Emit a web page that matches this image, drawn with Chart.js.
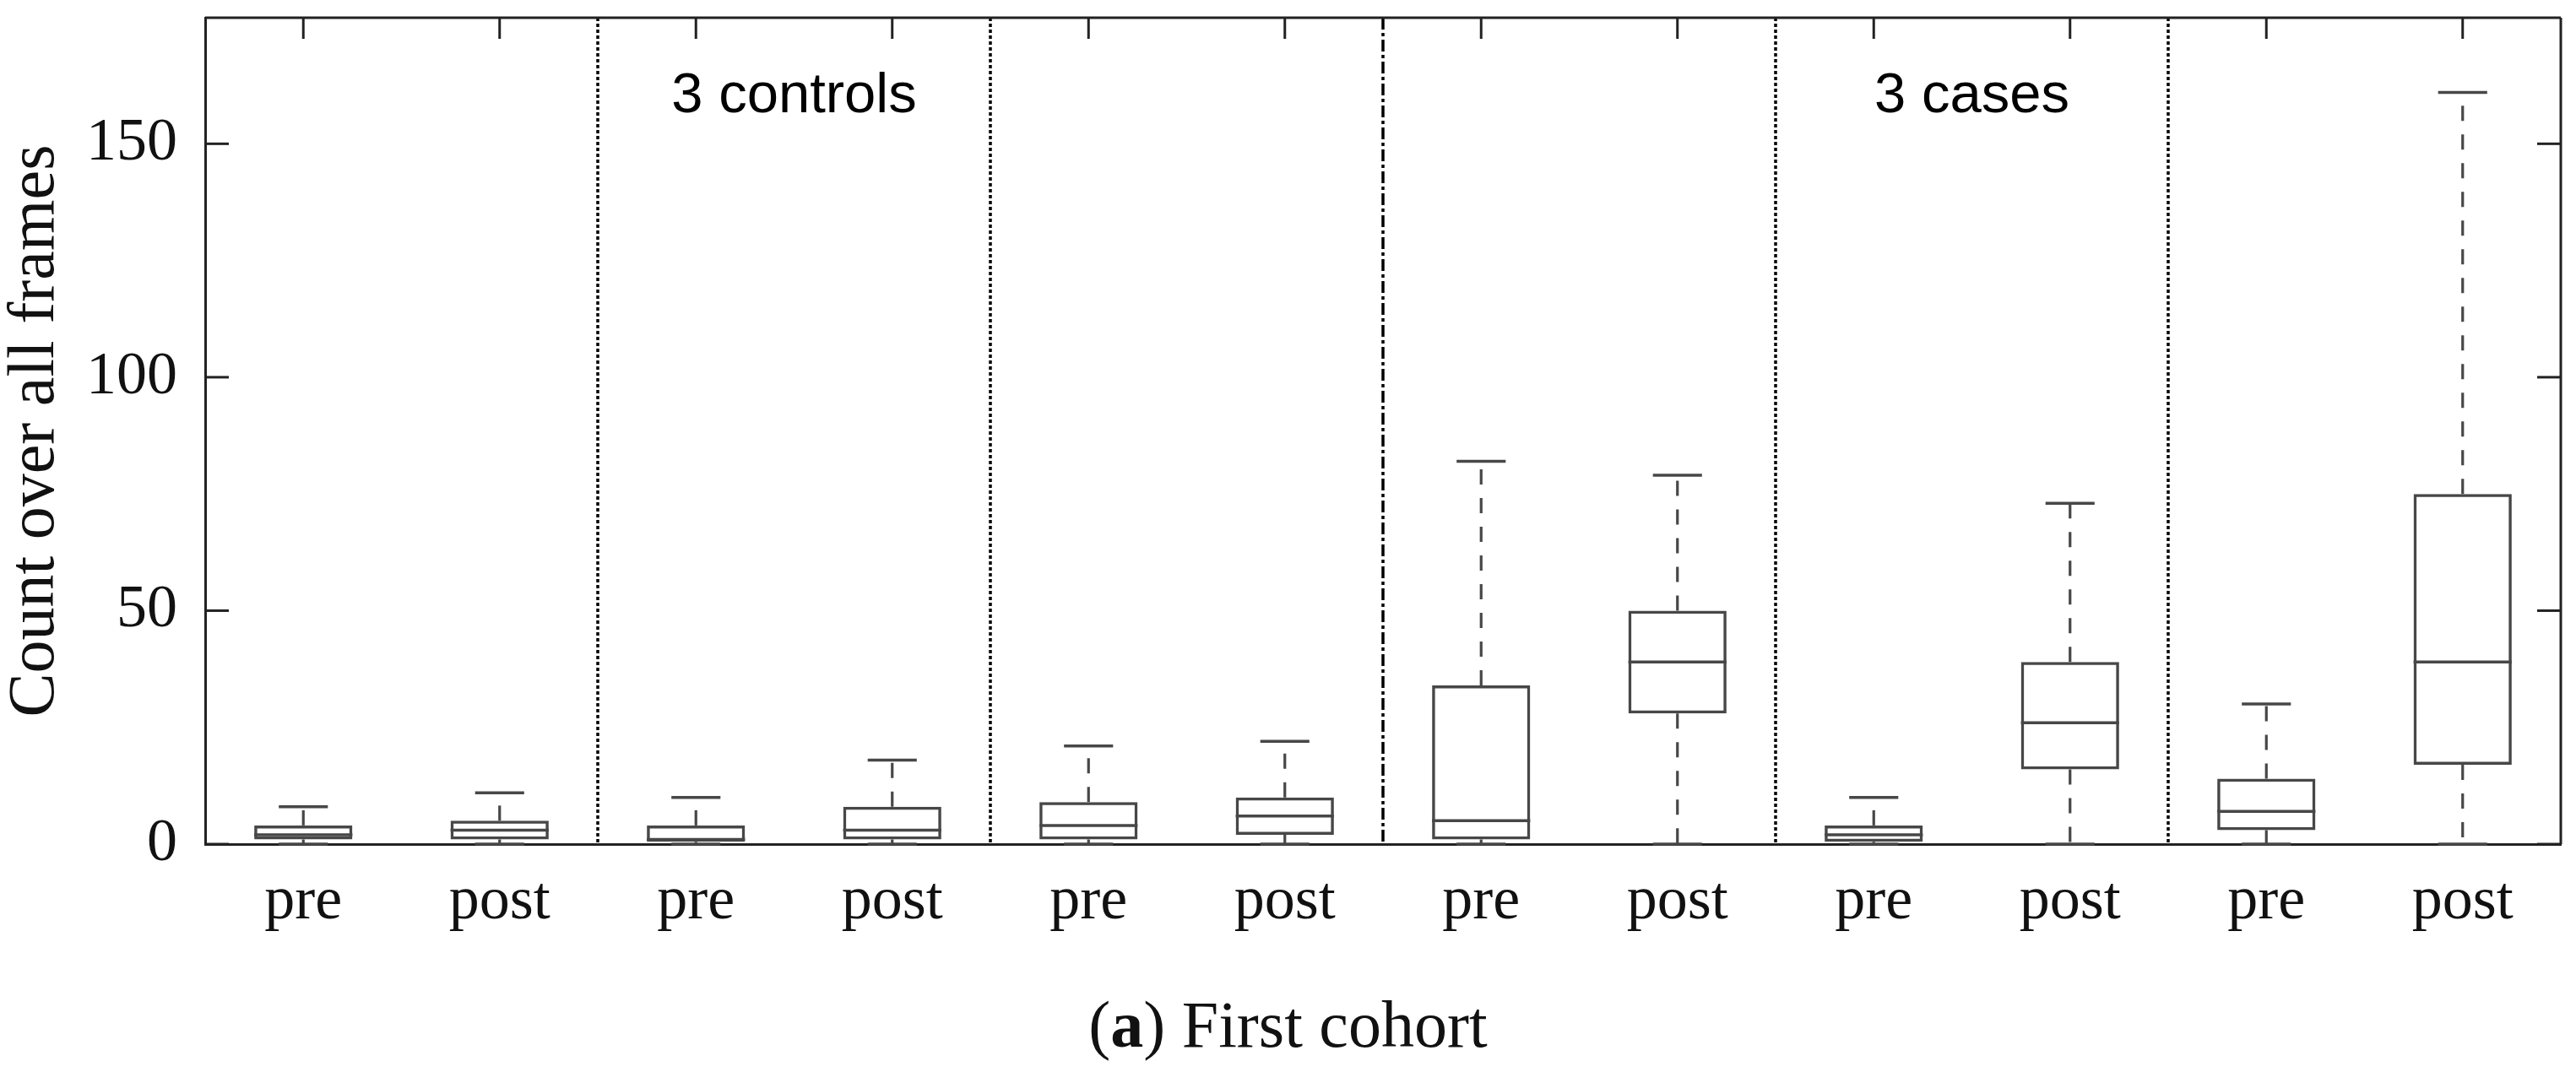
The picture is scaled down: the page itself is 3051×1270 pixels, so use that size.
<!DOCTYPE html>
<html>
<head>
<meta charset="utf-8">
<script src="https://cdn.jsdelivr.net/npm/chart.js@4.4.1/dist/chart.umd.min.js"></script>
<style>
  html, body { margin: 0; padding: 0; background: #fff; }
  #wrap { width: 3051px; height: 1270px; }
</style>
</head>
<body>
<div id="wrap"><canvas id="chart" width="3051" height="1270"></canvas></div>
<script>
// Box plot values (one entry per box)
const labels = ["pre", "post", "pre", "post", "pre", "post", "pre", "post", "pre", "post", "pre", "post"]
const whiskerLow = [0, 0, 0, 0, 0, 0, 0, 0, 0, 0, 0, 0]
const q1 = [1, 1, 0.5, 1, 1, 2, 1, 28, 0.5, 16, 3, 17]
const medians = [2, 3, 1, 3, 4, 6, 5, 39, 2, 26, 7, 39]
const q3 = [4, 5, 4, 8, 9, 10, 34, 50, 4, 39, 14, 75]
const whiskerHigh = [8, 11, 10, 18, 21, 22, 82, 79, 10, 73, 30, 161]
const yTicks = [0, 50, 100, 150]
const yMax = 177

// Group separators (category index after which a line is drawn)
const dottedAfter = [1, 3, 7, 9]
const dashDotAfter = [5]
// Group labels and the two categories they sit between
const groupLabels = ["3 controls", "3 cases"]
const groupSpans = [[2, 3], [8, 9]]
const groupLabelValue = 160

const BOX_COLOR = "#474747"
const AXIS_COLOR = "#222222"
const SERIF = "'Liberation Serif', 'DejaVu Serif', serif"
const SANS = "'Liberation Sans', Arial, sans-serif"

function strokeLine(ctx, x1, y1, x2, y2) {
  ctx.beginPath()
  ctx.moveTo(x1, y1)
  ctx.lineTo(x2, y2)
  ctx.stroke()
}

// Medians, whiskers and caps drawn through the chart's scales
const whiskerPlugin = {
  id: "whiskers",
  afterDatasetsDraw(chart) {
    const { ctx } = chart
    const x = chart.scales.x
    const y = chart.scales.y
    const slot = x.getPixelForValue(1) - x.getPixelForValue(0)
    const boxHalf = slot * 0.25
    const capHalf = slot * 0.125
    ctx.save()
    ctx.strokeStyle = BOX_COLOR
    ctx.lineWidth = 3.5
    labels.forEach((_, i) => {
      const cx = x.getPixelForValue(i)
      // median
      ctx.setLineDash([])
      const ym = y.getPixelForValue(medians[i])
      strokeLine(ctx, cx - boxHalf, ym, cx + boxHalf, ym)
      // caps
      const yHi = y.getPixelForValue(whiskerHigh[i])
      const yLo = y.getPixelForValue(whiskerLow[i])
      strokeLine(ctx, cx - capHalf, yHi, cx + capHalf, yHi)
      strokeLine(ctx, cx - capHalf, yLo, cx + capHalf, yLo)
      // whiskers
      ctx.lineWidth = 3.2
      ctx.setLineDash([18, 16])
      strokeLine(ctx, cx, y.getPixelForValue(q3[i]), cx, yHi)
      strokeLine(ctx, cx, y.getPixelForValue(q1[i]), cx, yLo)
      ctx.lineWidth = 3.5
    })
    ctx.restore()
  }
}

// Frame, inward ticks, separators, group labels and caption
const framePlugin = {
  id: "frame",
  afterDraw(chart) {
    const { ctx, chartArea: area } = chart
    const x = chart.scales.x
    const y = chart.scales.y
    ctx.save()

    // separators
    const sepX = (i) => (x.getPixelForValue(i) + x.getPixelForValue(i + 1)) / 2
    ctx.strokeStyle = "#000"
    ctx.lineWidth = 3.5
    ctx.setLineDash([4, 3])
    dottedAfter.forEach((i) => strokeLine(ctx, sepX(i), area.top, sepX(i), area.bottom))
    ctx.setLineDash([14, 4, 4, 4])
    dashDotAfter.forEach((i) => strokeLine(ctx, sepX(i), area.top, sepX(i), area.bottom))
    ctx.setLineDash([])

    // top and right frame
    ctx.strokeStyle = AXIS_COLOR
    ctx.lineWidth = 3
    strokeLine(ctx, area.left, area.top, area.right, area.top)
    strokeLine(ctx, area.right, area.top, area.right, area.bottom)

    // inward tick marks
    y.ticks.forEach((t) => {
      const py = y.getPixelForValue(t.value)
      strokeLine(ctx, area.left, py, area.left + 28, py)
      strokeLine(ctx, area.right, py, area.right - 28, py)
    })
    labels.forEach((_, i) => {
      const px = x.getPixelForValue(i)
      strokeLine(ctx, px, area.top, px, area.top + 25)
    })

    // group labels
    ctx.fillStyle = "#000"
    ctx.font = "67px " + SANS
    ctx.textAlign = "center"
    ctx.textBaseline = "middle"
    groupLabels.forEach((text, k) => {
      const [a, b] = groupSpans[k]
      const px = (x.getPixelForValue(a) + x.getPixelForValue(b)) / 2
      ctx.fillText(text, px, y.getPixelForValue(groupLabelValue))
    })

    // caption "(a) First cohort" with bold a
    const parts = [["(", "normal"], ["a", "bold"], [") First cohort", "normal"]]
    let total = 0
    parts.forEach((p) => {
      ctx.font = p[1] + " 78px " + SERIF
      total += ctx.measureText(p[0]).width
    })
    let cx = chart.width / 2 - total / 2
    ctx.textAlign = "left"
    ctx.textBaseline = "alphabetic"
    ctx.fillStyle = "#111"
    parts.forEach((p) => {
      ctx.font = p[1] + " 78px " + SERIF
      ctx.fillText(p[0], cx, 1240)
      cx += ctx.measureText(p[0]).width
    })
    ctx.restore()
  }
}

new Chart(document.getElementById("chart"), {
  type: "bar",
  data: {
    labels: labels,
    datasets: [{
      data: q1.map((v, i) => [v, q3[i]]),
      backgroundColor: "rgba(0,0,0,0)",
      borderColor: BOX_COLOR,
      borderWidth: 3.5,
      borderSkipped: false,
      barPercentage: 0.5,
      categoryPercentage: 1
    }]
  },
  options: {
    responsive: false,
    devicePixelRatio: 1,
    animation: false,
    layout: { padding: { top: 21, right: 18, left: 0, bottom: 0 } },
    plugins: {
      legend: { display: false },
      tooltip: { enabled: false }
    },
    scales: {
      x: {
        grid: { display: false, drawTicks: false },
        border: { display: true, color: AXIS_COLOR, width: 3 },
        ticks: { color: "#111", font: { family: SERIF, size: 72 }, padding: 26, maxRotation: 0 },
        afterFit: (scale) => {
          scale.height = 270
          scale.paddingLeft = 0
          scale.paddingRight = 0
        }
      },
      y: {
        min: 0,
        max: yMax,
        grid: { display: false, drawTicks: false },
        border: { display: true, color: AXIS_COLOR, width: 3 },
        afterBuildTicks: (scale) => { scale.ticks = yTicks.map((v) => ({ value: v })) },
        ticks: { color: "#111", font: { family: SERIF, size: 72 }, padding: 33 },
        title: {
          display: true,
          text: "Count over all frames",
          color: "#111",
          font: { family: SERIF, size: 78, lineHeight: 1.1 },
          padding: 0
        },
        afterFit: (scale) => {
          scale.width = 243
          scale.paddingTop = 0
          scale.paddingBottom = 0
        }
      }
    }
  },
  plugins: [whiskerPlugin, framePlugin]
})
</script>
</body>
</html>
